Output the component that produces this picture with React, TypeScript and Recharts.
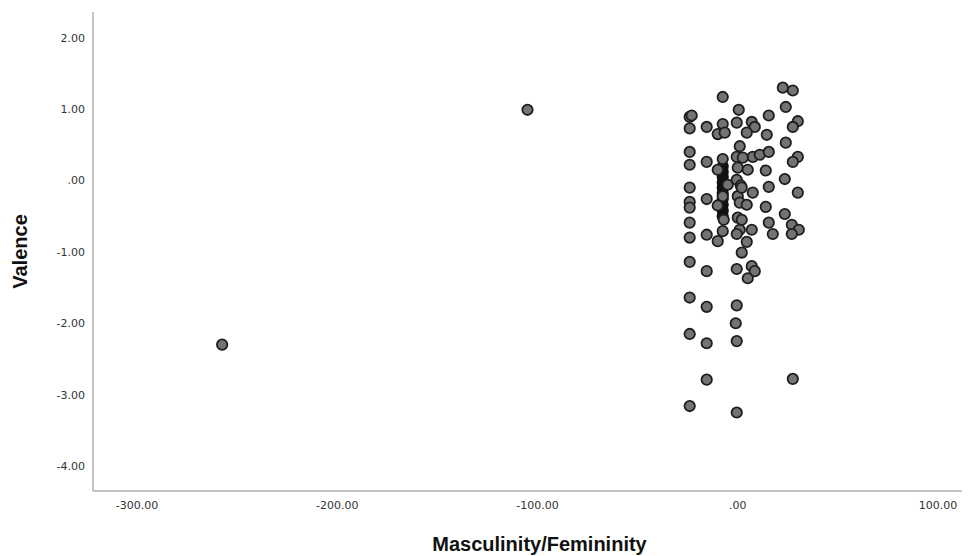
import { ScatterChart, Scatter, XAxis, YAxis, Label } from "recharts"

// Masculinity/Femininity score per case
const mfScores = [
  -257.5, -105,
  -24, -23, -24, -24, -24, -24, -24, -24, -24, -24, -24, -24, -24, -24,
  -15.5, -15.5, -15.5, -15.5, -15.5, -15.5, -15.5, -15.5,
  -7.5, -7.5, -10, -6.5, -7.5, -10, -5, -7.5, -10, -7, -7.5, -10,
  0.5, -0.5, 1, -0.5, 0, -0.5, 1.5, 0, 1, 0, 1, -0.5, 2, -0.5, -0.5, -1, -0.5, -0.5, 2, 2,
  7, 8.5, 5, 5, 7.5, 4.5, 7, 4.5, 7, 8.5, 4.5, 7.5, 11, 2.5,
  14, 15.5, 14, 15.5, 17.5, 15.5, 14.5, 15.5,
  22.5, 27.5, 24, 30, 27.5, 24, 30, 27.5, 23.5, 30, 23.5, 27, 30.5, 27, 27.5,
]

// Valence score per case (same order)
const valenceScores = [
  -2.3, 0.99,
  0.89, 0.91, 0.73, 0.4, 0.22, -0.1, -0.3, -0.38, -0.59, -0.8, -1.14, -1.64, -2.15, -3.16,
  0.75, 0.26, -0.26, -0.76, -1.27, -1.77, -2.28, -2.79,
  1.17, 0.79, 0.65, 0.67, 0.3, 0.15, -0.06, -0.22, -0.35, -0.55, -0.71, -0.85,
  0.99, 0.81, 0.48, 0.33, 0.18, 0.01, -0.07, -0.22, -0.31, -0.52, -0.69, -0.75, -1.01, -1.24, -1.75, -2.0, -2.25, -3.25, -0.1, -0.55,
  -1.2, -1.27, -1.37, 0.15, -0.17, -0.34, -0.69, -0.86, 0.82, 0.75, 0.67, 0.33, 0.36, 0.32,
  0.14, -0.09, -0.37, -0.59, -0.75, 0.91, 0.64, 0.4,
  1.3, 1.26, 1.03, 0.83, 0.75, 0.53, 0.33, 0.26, 0.02, -0.17, -0.47, -0.62, -0.69, -0.75, -2.78,
]

// heavily overplotted stack that renders as a solid black bar
const denseMf = [-7.5, -7.5, -7.5, -7.5, -7.5, -7.5, -7.5, -7.5, -7.5, -7.5]
const denseValence = [0.2, 0.12, 0.05, -0.03, -0.1, -0.18, -0.26, -0.34, -0.42, -0.5]

const xTicks = [-300, -200, -100, 0, 100]
const yTicks = [2, 1, 0, -1, -2, -3, -4]

const points = mfScores.map((x, i) => ({ x, y: valenceScores[i] }))
const densePoints = denseMf.map((x, i) => ({ x, y: denseValence[i] }))

function fmt(v: number) {
  if (v === 0) return ".00"
  return v.toFixed(2)
}

function dot(fill: string, stroke: string) {
  return (p: any) => <circle cx={p.cx} cy={p.cy} r={5.2} fill={fill} stroke={stroke} strokeWidth={1.8} />
}

const tickStyle = { fontSize: 11, fill: "#333", fontFamily: "DejaVu Sans" }
const titleStyle = {
  fontSize: 20,
  fontWeight: 700,
  fill: "#111",
  fontFamily: "Liberation Sans Narrow, Liberation Sans",
  textAnchor: "middle" as const,
}

export default function App() {
  return (
    <div style={{ position: "absolute", left: 0, top: 0, background: "#fff" }}>
      <ScatterChart width={972} height={556} margin={{ top: 12, right: 10, bottom: 0, left: 0 }}>
        <XAxis
          type="number"
          dataKey="x"
          domain={[-322, 112]}
          ticks={xTicks}
          tickFormatter={fmt}
          tick={tickStyle}
          tickLine={false}
          tickMargin={4}
          axisLine={{ stroke: "#8a8a8a" }}
          height={65}
          allowDataOverflow
        >
          <Label value="Masculinity/Femininity" position="insideBottom" offset={5} dx={12} style={titleStyle} />
        </XAxis>
        <YAxis
          type="number"
          dataKey="y"
          domain={[-4.35, 2.36]}
          ticks={yTicks}
          tickFormatter={fmt}
          tick={tickStyle}
          tickLine={false}
          axisLine={{ stroke: "#8a8a8a" }}
          width={93}
          allowDataOverflow
        >
          <Label value="Valence" angle={-90} position="insideLeft" offset={20} style={titleStyle} />
        </YAxis>
        <Scatter data={densePoints} shape={dot("#111", "#111")} isAnimationActive={false} />
        <Scatter data={points} shape={dot("#737373", "#1e1e1e")} isAnimationActive={false} />
      </ScatterChart>
    </div>
  )
}
